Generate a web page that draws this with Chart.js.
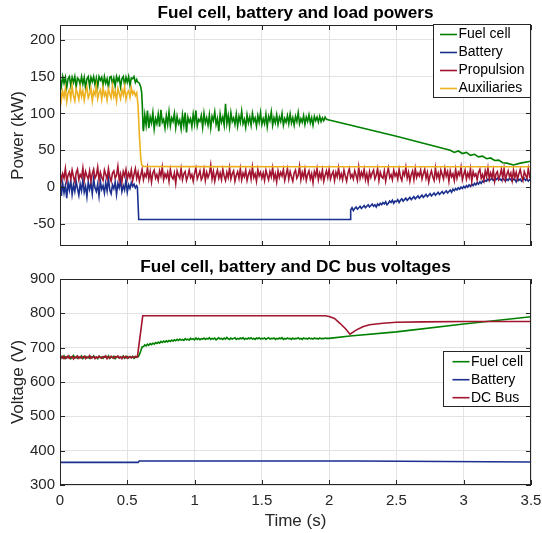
<!DOCTYPE html>
<html><head><meta charset="utf-8">
<script src="https://cdn.jsdelivr.net/npm/chart.js@4.4.0/dist/chart.umd.min.js"></script>
<style>
html,body{margin:0;padding:0;background:#fff;}
#wrap{position:relative;width:542px;height:533px;overflow:hidden;background:#fff;}
canvas{position:absolute;left:0;}
#c1{top:0;} #c2{top:255px;}
</style></head><body>
<div id="wrap"><canvas id="c1" width="542" height="255"></canvas><canvas id="c2" width="542" height="278"></canvas></div>
<script>
// ---------------- DATA ----------------
const DT = 0.01; // sampling step of the noisy segments (s)
const xTickLabels = [0, 0.5, 1, 1.5, 2, 2.5, 3, 3.5];
const powerTicks = [-50, 0, 50, 100, 150, 200];
const voltTicks = [300, 400, 500, 600, 700, 800, 900];
const powerNames = ['Fuel cell', 'Battery', 'Propulsion', 'Auxiliaries'];
const voltNames = ['Fuel cell', 'Battery', 'DC Bus'];

// Fuel cell power (kW)
const fcPowerA = [148,137,150,141,149,135,147,150,138,149,142,150,136,148,146,139,150,140,149,134,147,150,137,149,143,150,139,148,136,150,145,149,138,150,141,147,135,149,150,140,148,137,150,144,149,136,147,150,139,149,142,150,138,148,147,150,142,146]; // t = 0 .. 0.57
const fcPowerDropT = [0.575, 0.59, 0.60, 0.607, 0.612, 0.617];
const fcPowerDropV = [143, 141, 136, 128, 110, 80];
const fcPowerB = [ // t = 0.62 .. 1.98
76,98,84,104,80,95,87,101,79,93,
86,99,82,105,88,92,80,97,85,102,
83,94,89,100,81,96,86,91,79,98,
84,101,74,95,88,93,82,99,86,104,
83,92,89,97,81,100,87,94,84,98,
80,96,90,102,85,93,76,99,88,95,
84,113,86,97,82,101,89,94,85,99,
83,96,88,103,86,92,81,98,87,95,
84,100,89,94,83,97,88,101,85,93,
86,99,82,96,90,102,84,94,87,98,
85,95,89,100,84,93,88,97,86,99,
87,94,84,96,89,101,86,93,88,97,
85,95,89,98,87,94,84,96,90,95,
88,96,89,94,90,95,92];
const fcPowerTailT = [2.00, 2.50, 2.90, 2.93, 2.96, 2.99, 3.02, 3.05, 3.08, 3.11, 3.14, 3.17, 3.20, 3.23, 3.26, 3.29, 3.32, 3.37, 3.42, 3.50];
const fcPowerTailV = [91, 69, 50, 47, 49, 45.5, 47, 43, 44.5, 41, 42, 38.5, 39.5, 36, 36.5, 33, 32.5, 30, 32.5, 35];

// Battery power (kW)
const batPowerA = [14,-12,5,-8,2,-15,6,-4,9,-10,3,-6,8,-2,-11,4,-5,10,-7,1,-13,7,-3,5,-9,11,-1,-6,4,-12,8,-3,2,-8,6,-5,12,-4,-9,3,-2,7,-10,5,-1,9,-6,2,-4,10,-7,3,-2,6,1,4,-1,2]; // t = 0 .. 0.57
const batPowerMidT = [0.575, 0.585, 2.155];
const batPowerMidV = [0, -44, -44];
const batPowerB = [ // t = 2.16 .. 3.50
-31,-28,-32,-29,-27,-30,-28,-26,-29,-27,
-25,-28,-26,-24,-27,-25,-23,-26,-24,-27,
-23,-25,-22,-24,-21,-23,-20,-24,-22,-19,
-21,-18,-22,-19,-20,-17,-21,-18,-16,-19,
-17,-15,-18,-16,-14,-17,-15,-13,-16,-14,
-12,-15,-13,-11,-14,-12,-10,-13,-11,-9,
-12,-10,-8,-11,-9,-7,-10,-8,-6,-9,
-7,-5,-8,-6,-4,-7,-3,-5,-2,-4,
-1,-3,0,-2,1,-1,2,0,3,1,
4,2,5,3,6,4,7,5,8,7,
9,8,11,9,10,12,9,11,10,12,
10,11,9,12,10,8,11,9,12,10,
8,11,10,7,12,9,11,8,10,12,
9,11,8,10,11];

// Propulsion power (kW), t = 0 .. 3.50
const propPower = [
22,9,18,12,25,8,16,20,11,23, 14,7,19,24,10,17,13,26,9,21,
15,11,22,8,18,24,12,16,27,10, 20,13,9,23,17,11,25,14,8,19,
22,12,16,28,10,18,7,21,15,24, 11,19,13,23,9,17,25,12,20,8,
16,24,10,18,14,26,11,21,7,19, 23,12,17,9,22,15,27,10,18,13,
20,8,24,14,11,19,5,22,16,12, 25,10,18,21,9,15,23,13,17,8,
19,26,11,16,22,10,14,24,9,20, 13,18,30,11,21,8,17,23,12,19,
10,24,15,9,20,13,26,11,18,22, 8,16,21,12,25,10,19,14,23,9,
17,22,11,27,13,18,8,24,15,20, 12,19,9,23,16,10,21,14,26,11,
18,7,22,13,20,15,24,9,17,25, 11,21,14,8,19,23,12,16,28,10,
20,13,24,9,17,22,11,18,6,21, 15,25,10,19,12,23,8,16,22,13,
24,11,17,21,9,20,14,26,12,18, 10,23,15,8,19,25,13,17,11,22,
16,9,27,12,20,14,24,10,18,7, 21,13,19,23,11,16,25,9,20,14,
12,22,8,18,26,13,17,10,23,15, 19,11,24,14,9,21,16,27,12,20,
8,17,22,10,25,13,19,15,23,11, 18,24,12,20,7,16,22,14,9,26,
13,19,10,23,17,11,25,15,21,8, 22,14,18,9,24,12,20,16,27,10,
17,23,11,19,13,25,8,21,15,18, 10,20,24,12,17,9,22,14,26,11,
19,13,23,8,18,21,11,16,24,12, 25,10,17,22,14,19,9,23,13,20,
11,18,24,15,9,21,16,12,25,14, 17];

// Auxiliaries power (kW)
const auxPowerA = [136,118,130,122,134,116,128,132,120,137,124,117,133,127,119,135,123,131,118,129,136,121,126,134,117,130,125,138,120,128,132,119,135,124,129,118,133,126,121,137,123,130,117,134,127,120,132,125,136,119,128,131,122,135,126,130,124,128]; // t = 0 .. 0.57
const auxPowerTailT = [0.58, 0.59, 0.60, 0.607, 0.62, 1.0, 2.0, 3.5];
const auxPowerTailV = [110, 70, 40, 30, 28, 27.8, 27.5, 27.5];

// Fuel cell voltage (V)
const fcVoltA = [668,674,670,676,669,673,671,675,668,672,677,670,674,669,673,671,676,668,672,675,670,673,669,674,671,676,670,672,668,675,671,673,669,674,672,670,676,669,673,671,675,668,672,674,670,673,671,676,669,672,674,670,673,671,675,669,672,674,673]; // t = 0 .. 0.58
const fcVoltRiseT = [0.59, 0.60, 0.61];
const fcVoltRiseV = [680, 690, 702];
const fcVoltB = [ // t = 0.62 .. 1.98
703,708,705,710,707,712,709,713,710,715,
712,716,713,718,715,719,716,720,717,721,
718,722,719,723,720,724,721,725,722,724,
721,726,723,725,722,727,724,726,723,728,
724,727,723,726,725,728,724,727,725,729,
724,727,725,728,723,726,729,725,727,724,
728,725,730,726,724,728,725,727,729,724,
727,725,728,726,729,724,727,725,728,726,
729,725,727,724,728,726,729,725,727,726,
728,724,727,729,725,727,726,728,724,727,
725,728,726,729,724,727,725,728,726,727,
724,728,725,727,726,729,725,727,724,728,
726,727,725,728,726,727,725,728,726,727,
725,728,726,727,726,728,727];
const fcVoltTailT = [2.00, 2.155, 2.50, 3.00, 3.50];
const fcVoltTailV = [727, 734, 746, 769, 790];

// Battery voltage (V)
const batVoltT = [0, 0.58, 0.59, 2.20, 3.50];
const batVoltV = [366, 366, 370, 370, 367];

// DC bus voltage (V)
const busVoltA = [664,671,675,668,673,670,676,669,672,674,667,673,671,676,669,674,670,672,675,668,673,671,677,669,672,674,668,673,670,675,671,669,674,672,676,668,673,670,675,671,669,674,672,676,670,673,668,674,671,675,669,672,674,670,673,671,675,672]; // t = 0 .. 0.57
const busVoltTailT = [0.575, 0.615, 1.97, 2.00, 2.04, 2.08, 2.12, 2.155, 2.20, 2.25, 2.30, 2.40, 2.50, 2.70, 3.00, 3.50];
const busVoltTailV = [673, 793, 793, 791, 785, 771, 756, 739, 751, 761, 767, 771, 774, 775, 776, 776];

// ---------------- BUILD ----------------
function uniform(t0, vals) { return vals.map((v, i) => ({ x: Math.round((t0 + i * DT) * 10000) / 10000, y: v })); }
function pairs(ts, vs) { return ts.map((t, i) => ({ x: t, y: vs[i] })); }

const COL = { green: '#008000', blue: '#1a2f8e', red: '#a2142f', orange: '#edb120' };
const FONT = "'Liberation Sans', Arial, Helvetica, sans-serif";
const AX = '#262626';

Chart.defaults.font.family = FONT;

function ds(label, data, color, order) {
  return { label, data, borderColor: color, backgroundColor: color, borderWidth: 1.6, pointRadius: 0, tension: 0, fill: false, order };
}

const powerSets = [
  ds(powerNames[0], [].concat(uniform(0, fcPowerA), pairs(fcPowerDropT, fcPowerDropV), uniform(0.62, fcPowerB), pairs(fcPowerTailT, fcPowerTailV)), COL.green, 4),
  ds(powerNames[1], [].concat(uniform(0, batPowerA), pairs(batPowerMidT, batPowerMidV), uniform(2.16, batPowerB)), COL.blue, 3),
  ds(powerNames[2], uniform(0, propPower), COL.red, 2),
  ds(powerNames[3], [].concat(uniform(0, auxPowerA), pairs(auxPowerTailT, auxPowerTailV)), COL.orange, 1)
];
const voltSets = [
  ds(voltNames[0], [].concat(uniform(0, fcVoltA), pairs(fcVoltRiseT, fcVoltRiseV), uniform(0.62, fcVoltB), pairs(fcVoltTailT, fcVoltTailV)), COL.green, 3),
  ds(voltNames[1], pairs(batVoltT, batVoltV), COL.blue, 2),
  ds(voltNames[2], [].concat(uniform(0, busVoltA), pairs(busVoltTailT, busVoltTailV)), COL.red, 1)
];

// decoration plugin: frame, inner ticks, titles, labels, legend
function decoPlugin(cfg) {
  return {
    id: 'deco',
    afterDatasetsDraw(chart) {
      const c = chart.ctx, a = chart.chartArea;
      c.save();
      c.strokeStyle = AX; c.lineWidth = 1;
      c.strokeRect(Math.round(a.left) + 0.5, Math.round(a.top) + 0.5, Math.round(a.right - a.left) - 1, Math.round(a.bottom - a.top) - 1);
      const xs = chart.scales.x, ys = chart.scales.y, TL = 5;
      c.beginPath();
      xs.ticks.forEach(t => { const px = Math.round(xs.getPixelForValue(t.value)) + 0.5; c.moveTo(px, a.bottom); c.lineTo(px, a.bottom - TL); c.moveTo(px, a.top); c.lineTo(px, a.top + TL); });
      ys.ticks.forEach(t => { const py = Math.round(ys.getPixelForValue(t.value)) + 0.5; c.moveTo(a.left, py); c.lineTo(a.left + TL, py); c.moveTo(a.right, py); c.lineTo(a.right - TL, py); });
      c.stroke();
      // title
      c.fillStyle = '#000'; c.textAlign = 'center'; c.textBaseline = 'middle';
      c.font = 'bold 17.2px ' + FONT;
      c.fillText(cfg.title, (a.left + a.right) / 2, cfg.titleY);
      // y label
      c.fillStyle = AX; c.font = '17px ' + FONT;
      c.save(); c.translate(18.5, (a.top + a.bottom) / 2); c.rotate(-Math.PI / 2); c.fillText(cfg.ylabel, 0, 0); c.restore();
      if (cfg.xlabel) c.fillText(cfg.xlabel, (a.left + a.right) / 2, cfg.xlabelY);
      // legend
      const L = cfg.legend;
      c.fillStyle = '#fff'; c.fillRect(L.x, L.y, L.w, L.h);
      c.strokeStyle = AX; c.lineWidth = 1; c.strokeRect(L.x + 0.5, L.y + 0.5, L.w - 1, L.h - 1);
      c.font = '14px ' + FONT; c.textAlign = 'left'; c.textBaseline = 'middle';
      cfg.names.forEach((n, i) => {
        const yy = L.y0 + i * L.dy;
        c.strokeStyle = cfg.colors[i]; c.lineWidth = 1.6;
        c.beginPath(); c.moveTo(L.lx0, yy); c.lineTo(L.lx1, yy); c.stroke();
        c.fillStyle = '#000'; c.fillText(n, L.tx, yy);
      });
      c.restore();
    }
  };
}

function zeroPad(s) { s.paddingLeft = 0; s.paddingRight = 0; s.paddingTop = 0; s.paddingBottom = 0; }

function scaleOpts(min, max, ticks, showLabels, xHeight, isX) {
  const o = {
    type: 'linear', min, max,
    grid: { color: '#e3e3e3', drawTicks: false, lineWidth: 1 },
    border: { display: false },
    ticks: { display: showLabels, color: AX, font: { size: 15, family: FONT }, padding: isX ? 7 : 5, autoSkip: false, maxRotation: 0,
      callback: v => String(v) },
    afterBuildTicks: s => { s.ticks = ticks.map(v => ({ value: v })); }
  };
  if (isX) o.afterFit = s => { s.height = xHeight; zeroPad(s); };
  else o.afterFit = s => { s.width = 60; zeroPad(s); };
  return o;
}

function make(id, sets, yMin, yMax, yTicks, showX, xHeight, pad, deco) {
  return new Chart(document.getElementById(id), {
    type: 'line',
    data: { datasets: sets },
    options: {
      responsive: false, animation: false, parsing: true,
      layout: { padding: pad },
      plugins: { legend: { display: false }, tooltip: { enabled: false }, title: { display: false } },
      scales: {
        x: scaleOpts(0, 3.5, xTickLabels, showX, xHeight, true),
        y: scaleOpts(yMin, yMax, yTicks, true, 0, false)
      }
    },
    plugins: [decoPlugin(deco)]
  });
}

make('c1', powerSets, -80, 220, powerTicks, false, 0, { left: 0, right: 11, top: 25, bottom: 9 }, {
  title: 'Fuel cell, battery and load powers', titleY: 13, ylabel: 'Power (kW)',
  names: powerNames, colors: [COL.green, COL.blue, COL.red, COL.orange],
  legend: { x: 433, y: 24, w: 98, h: 74, y0: 34.5, dy: 18, lx0: 440, lx1: 457, tx: 458.5 }
});
make('c2', voltSets, 300, 900, voltTicks, true, 48, { left: 0, right: 11, top: 24, bottom: 0 }, {
  title: 'Fuel cell, battery and DC bus voltages', titleY: 12.5, ylabel: 'Voltage (V)', xlabel: 'Time (s)', xlabelY: 266.5,
  names: voltNames, colors: [COL.green, COL.blue, COL.red],
  legend: { x: 443, y: 96, w: 88, h: 56, y0: 106.7, dy: 18, lx0: 452.5, lx1: 469.5, tx: 471 }
});
</script>
</body></html>
